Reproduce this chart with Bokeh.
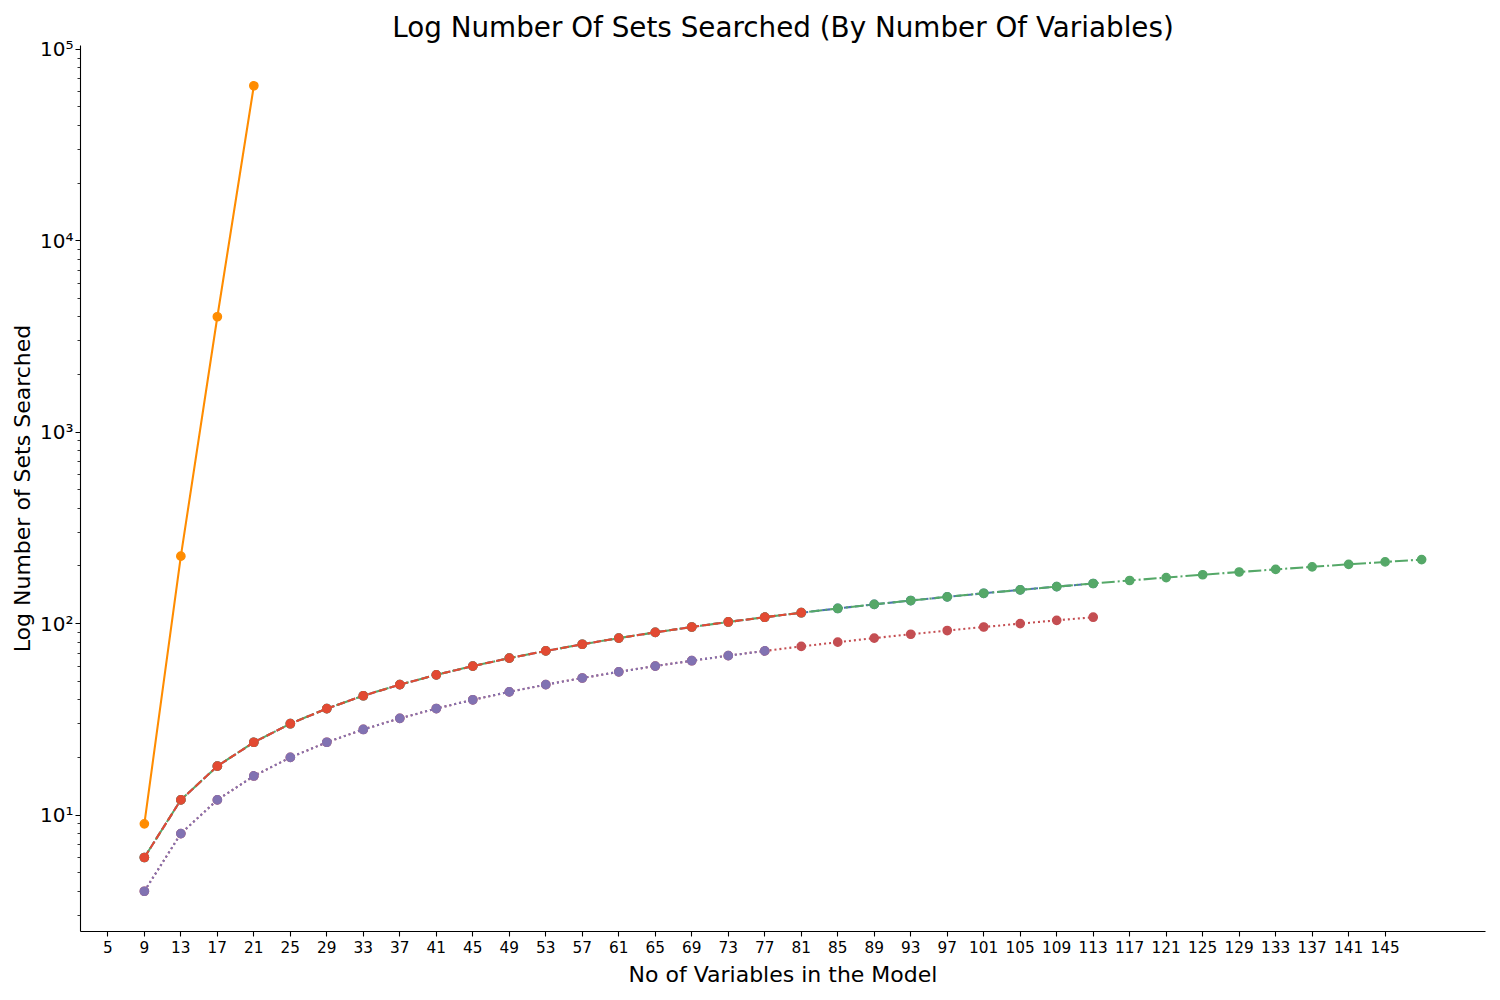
import math
from bokeh.plotting import figure
from bokeh.models import Range1d, FixedTicker
from bokeh.embed import file_html
from bokeh.resources import INLINE

# ---------------- data ----------------
x_ticks = [5, 9, 13, 17, 21, 25, 29, 33, 37, 41, 45, 49, 53, 57, 61, 65, 69, 73,
           77, 81, 85, 89, 93, 97, 101, 105, 109, 113, 117, 121, 125, 129, 133,
           137, 141, 145]

y_major_ticks = [10, 100, 1000, 10000, 100000]
y_major_labels = ["10¹", "10²", "10³", "10⁴", "10⁵"]

# orange solid
x_orange = [9, 13, 17, 21]
y_orange = [9, 225, 4010, 64500]

# blue dashed (mostly hidden under green / red)
x_blue = [9, 13, 17, 21, 25, 29, 33, 37, 41, 45, 49, 53, 57, 61, 65, 69, 73, 77,
          81, 85, 89, 93, 97, 101, 105, 109, 113]
y_blue = [6, 12, 18, 24, 30, 36, 42, 48, 54, 60, 66, 72, 78, 84, 90, 96, 102, 108,
          114, 120, 126, 132, 138, 144, 150, 156, 162]

# green dash-dot
x_green = [9, 13, 17, 21, 25, 29, 33, 37, 41, 45, 49, 53, 57, 61, 65, 69, 73, 77,
           81, 85, 89, 93, 97, 101, 105, 109, 113, 117, 121, 125, 129, 133, 137,
           141, 145, 149]
y_green = [6, 12, 18, 24, 30, 36, 42, 48, 54, 60, 66, 72, 78, 84, 90, 96, 102, 108,
           114, 120, 126, 132, 138, 144, 150, 156, 162, 168, 174, 180, 186, 192,
           198, 204, 210, 216]

# orange-red dashed
x_orred = [9, 13, 17, 21, 25, 29, 33, 37, 41, 45, 49, 53, 57, 61, 65, 69, 73, 77, 81]
y_orred = [6, 12, 18, 24, 30, 36, 42, 48, 54, 60, 66, 72, 78, 84, 90, 96, 102, 108, 114]

# red dotted
x_red = [9, 13, 17, 21, 25, 29, 33, 37, 41, 45, 49, 53, 57, 61, 65, 69, 73, 77,
         81, 85, 89, 93, 97, 101, 105, 109, 113]
y_red = [4, 8, 12, 16, 20, 24, 28, 32, 36, 40, 44, 48, 52, 56, 60, 64, 68, 72,
         76, 80, 84, 88, 92, 96, 100, 104, 108]

# purple dotted
x_purple = [9, 13, 17, 21, 25, 29, 33, 37, 41, 45, 49, 53, 57, 61, 65, 69, 73, 77]
y_purple = [4, 8, 12, 16, 20, 24, 28, 32, 36, 40, 44, 48, 52, 56, 60, 64, 68, 72]

# ---------------- ranges (5% padding like matplotlib) ----------------
all_x = x_orange + x_blue + x_green + x_orred + x_red + x_purple
all_y = y_orange + y_blue + y_green + y_orred + y_red + y_purple
xmin, xmax = min(all_x), max(all_x)
xpad = 0.05 * (xmax - xmin)
lymin, lymax = math.log10(min(all_y)), math.log10(max(all_y))
lpad = 0.05 * (lymax - lymin)

p = figure(width=1490, height=990,
           y_axis_type="log",
           x_range=Range1d(xmin - xpad, xmax + xpad),
           y_range=Range1d(10 ** (lymin - lpad), 10 ** (lymax + lpad)),
           output_backend="svg", toolbar_location=None,
           min_border_left=80, min_border_right=5,
           min_border_top=45, min_border_bottom=59,
           title="Log Number Of Sets Searched (By Number Of Variables)")

p.background_fill_color = "white"
p.border_fill_color = "white"
p.outline_line_color = None
p.grid.visible = False

p.title.align = "center"
p.title.text_font = "DejaVu Sans"
p.title.text_font_size = "27.8px"
p.title.text_font_style = "normal"
p.title.text_color = "black"
p.title.standoff = 4

LW = 2.08
MS = 8.3

series = [
    (x_orange, y_orange, "#FF8C00", "solid"),
    (x_blue, y_blue, "#4C72B0", "8 3"),
    (x_green, y_green, "#55A868", "13 3 2 3"),
    (x_orred, y_orred, "#E24A33", "8 3"),
    (x_red, y_red, "#C44E52", "2 3"),
    (x_purple, y_purple, "#8172B2", "2 3"),
]
for xs, ys, col, dash in series:
    p.line(xs, ys, line_color=col, line_width=LW, line_dash=dash)
    p.scatter(xs, ys, marker="circle", size=MS, fill_color=col, line_color=col, line_width=1.4)

# ---------------- axes ----------------
minor = []
for d in [1, 10, 100, 1000, 10000]:
    for m in range(2, 10):
        minor.append(m * d)
p.yaxis.ticker = FixedTicker(ticks=y_major_ticks, minor_ticks=minor)
p.yaxis.major_label_overrides = {t: lab for t, lab in zip(y_major_ticks, y_major_labels)}
p.xaxis.ticker = FixedTicker(ticks=x_ticks, minor_ticks=[])
p.xaxis.major_label_overrides = {t: str(t) for t in x_ticks}

for ax in (p.xaxis[0], p.yaxis[0]):
    ax.axis_line_color = "black"
    ax.axis_line_width = 1.1
    ax.major_tick_line_color = "black"
    ax.major_tick_line_width = 1.1
    ax.major_tick_out = 5
    ax.major_tick_in = 0
    ax.minor_tick_line_color = "black"
    ax.minor_tick_line_width = 0.8
    ax.minor_tick_out = 3
    ax.minor_tick_in = 0
    ax.major_label_text_font = "DejaVu Sans"
    ax.major_label_text_font_size = "15.3px"
    ax.major_label_text_color = "black"
    ax.major_label_standoff = 4
    ax.axis_label_text_font = "DejaVu Sans"
    ax.axis_label_text_font_size = "22px"
    ax.axis_label_text_font_style = "normal"
    ax.axis_label_text_color = "black"
    ax.axis_label_standoff = 6

p.yaxis.major_label_text_font_size = "20px"
p.yaxis.major_label_standoff = 2
p.yaxis.axis_label_standoff = 2
p.xaxis.minor_tick_line_color = None
p.xaxis.axis_label = "No of Variables in the Model"
p.yaxis.axis_label = "Log Number of Sets Searched"

open("out.html", "w").write(file_html(p, INLINE))
